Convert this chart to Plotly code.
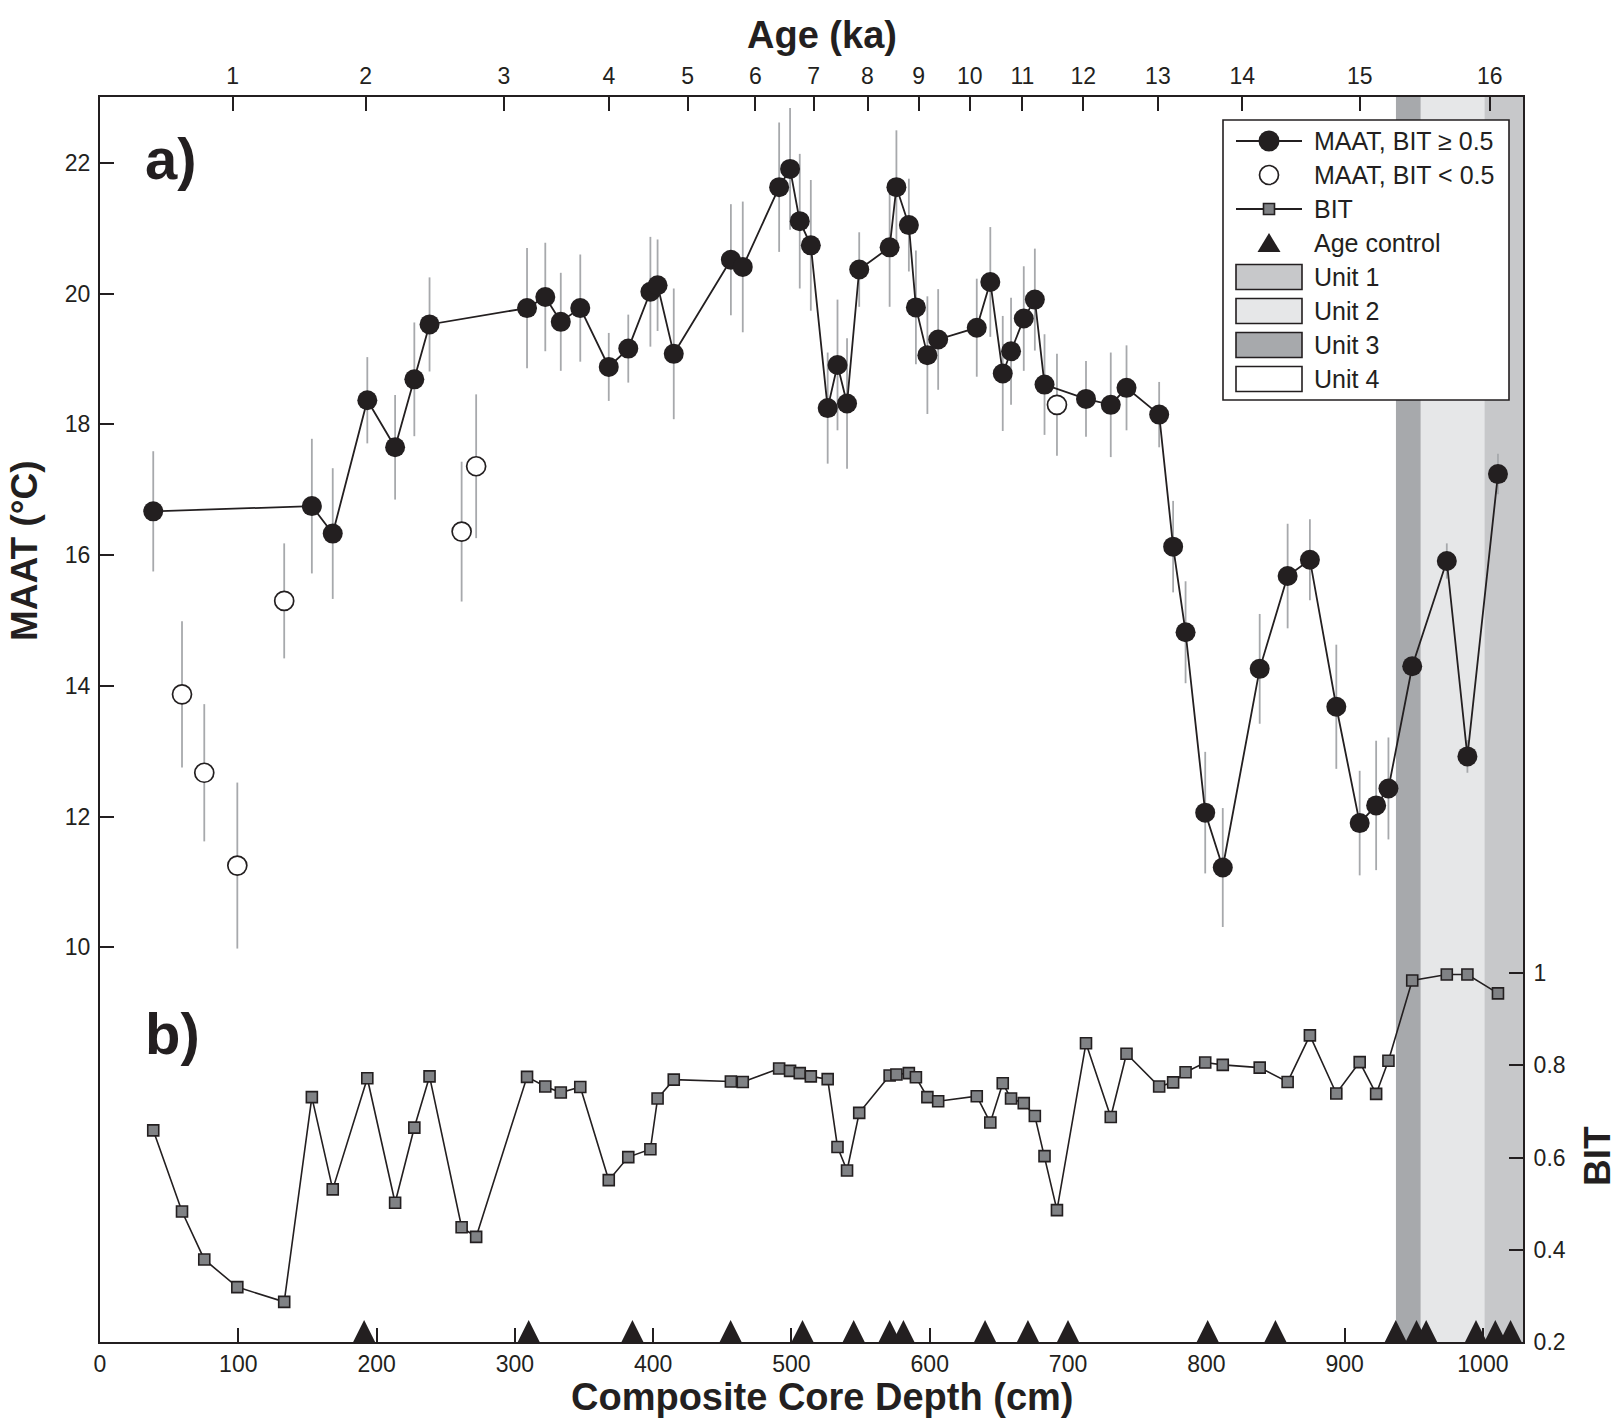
import plotly.graph_objects as go

# ---------------- data ----------------
DEPTH_CM = [38.5, 59.3, 75.4, 99.3, 133.2, 153.2, 168.3, 193.3, 213.4, 227.3,
            238.3, 261.5, 272.0, 308.8, 322.0, 333.2, 347.3, 367.9, 382.0, 398.0,
            403.2, 414.9, 456.2, 464.8, 491.1, 499.0, 506.0, 514.0, 526.2, 533.3,
            540.2, 549.0, 571.0, 575.9, 584.9, 590.0, 598.3, 606.1, 634.0, 643.8,
            652.8, 658.8, 668.0, 676.0, 683.0, 692.0, 713.0, 730.9, 742.3, 765.9,
            776.0, 785.0, 799.2, 811.9, 838.6, 858.8, 874.9, 894.0, 910.9, 922.8,
            931.7, 948.9, 973.9, 988.8, 1010.9]

MAAT_C = [16.67, 13.87, 12.67, 11.25, 15.30, 16.75, 16.33, 18.37, 17.65, 18.69,
          19.53, 16.36, 17.36, 19.78, 19.95, 19.57, 19.78, 18.88, 19.16, 20.03,
          20.13, 19.08, 20.52, 20.41, 21.63, 21.91, 21.11, 20.74, 18.25, 18.91,
          18.32, 20.37, 20.71, 21.63, 21.05, 19.79, 19.06, 19.30, 19.48, 20.18,
          18.78, 19.12, 19.62, 19.91, 18.61, 18.30, 18.39, 18.30, 18.56, 18.15,
          16.13, 14.82, 12.06, 11.22, 14.26, 15.68, 15.93, 13.68, 11.90, 12.17,
          12.43, 14.30, 15.91, 12.92, 17.24]

MAAT_ERR_C = [0.92, 1.12, 1.05, 1.27, 0.88, 1.03, 1.00, 0.66, 0.80, 0.87,
              0.72, 1.07, 1.10, 0.92, 0.83, 0.75, 0.82, 0.52, 0.52, 0.84,
              0.70, 1.00, 0.85, 1.00, 0.99, 0.93, 1.03, 1.00, 0.85, 1.00,
              1.00, 0.57, 0.91, 0.87, 0.71, 0.87, 0.90, 0.77, 0.75, 0.84,
              0.88, 0.82, 0.80, 0.78, 0.77, 0.78, 0.58, 0.80, 0.65, 0.50,
              0.70, 0.78, 0.93, 0.91, 0.84, 0.80, 0.62, 0.95, 0.80, 0.99,
              0.78, 0.10, 0.27, 0.25, 0.31]

BIT_INDEX = [0.659, 0.483, 0.379, 0.319, 0.287, 0.731, 0.531, 0.772, 0.502, 0.665,
             0.776, 0.449, 0.428, 0.775, 0.754, 0.741, 0.753, 0.551, 0.601, 0.618,
             0.728, 0.769, 0.765, 0.764, 0.793, 0.788, 0.783, 0.776, 0.770, 0.623,
             0.572, 0.697, 0.778, 0.780, 0.783, 0.774, 0.731, 0.722, 0.733, 0.676,
             0.761, 0.728, 0.718, 0.690, 0.603, 0.486, 0.848, 0.688, 0.825, 0.754,
             0.763, 0.785, 0.806, 0.801, 0.795, 0.764, 0.865, 0.739, 0.807, 0.738,
             0.810, 0.984, 0.997, 0.997, 0.956]

# 1 = MAAT sample plotted as open circle (BIT < 0.5)
BIT_BELOW_HALF = [0, 1, 1, 1, 1, 0, 0, 0, 0, 0,
                  0, 1, 1, 0, 0, 0, 0, 0, 0, 0,
                  0, 0, 0, 0, 0, 0, 0, 0, 0, 0,
                  0, 0, 0, 0, 0, 0, 0, 0, 0, 0,
                  0, 0, 0, 0, 0, 1, 0, 0, 0, 0,
                  0, 0, 0, 0, 0, 0, 0, 0, 0, 0,
                  0, 0, 0, 0, 0]

AGE_CONTROL_CM = [191, 310, 385, 456, 508, 545, 571, 581, 640, 671, 700,
                  801, 850, 937, 952, 959, 995, 1009, 1020]

AGE_TICK_CM = [96, 192, 292, 368, 425, 474, 516, 555, 592, 629, 667, 711,
               765, 826, 911, 1005]
AGE_TICK_KA = ["1", "2", "3", "4", "5", "6", "7", "8", "9", "10", "11", "12",
               "13", "14", "15", "16"]

UNIT_LABELS = ["Unit 1", "Unit 2", "Unit 3", "Unit 4"]
UNIT_FROM_CM = [1001, 955, 937, 0]
UNIT_TO_CM = [1035, 1001, 955, 937]

# ---------------- styling ----------------
UNIT_COLORS = ["#c7c8ca", "#e6e7e8", "#a7a9ac", "#ffffff"]
INK = "#231f20"
ERR_GREY = "#a7a9ac"
BIT_FILL = "#808285"
FONT = "Liberation Sans"

W, H = 1620, 1420
M_L, M_R, M_T, M_B = 100, 97, 97, 78
PW = W - M_L - M_R
PH = H - M_T - M_B
X_RANGE = [0, 1029]
MAAT_RANGE = [3.96, 23.01]
BIT_RANGE = [0.2, 2.9]
TRI_SIZE = 22


def px_x(px):
    return (px - M_L) / PW


def px_y(py):
    return (H - M_B - py) / PH


filled = [i for i, f in enumerate(BIT_BELOW_HALF) if not f]
opened = [i for i, f in enumerate(BIT_BELOW_HALF) if f]

fig = go.Figure()

# error bars (behind everything)
fig.add_trace(go.Scatter(
    x=DEPTH_CM, y=MAAT_C, mode="markers",
    marker=dict(size=1, color="rgba(0,0,0,0)"),
    error_y=dict(type="data", array=MAAT_ERR_C, color=ERR_GREY,
                 thickness=1.8, width=0),
    hoverinfo="skip", showlegend=False))

# MAAT, BIT >= 0.5
fig.add_trace(go.Scatter(
    x=[DEPTH_CM[i] for i in filled], y=[MAAT_C[i] for i in filled],
    mode="lines+markers", name="MAAT, BIT \u2265 0.5",
    line=dict(color=INK, width=1.8),
    marker=dict(size=20, color=INK, line=dict(width=0)),
    showlegend=False))

# MAAT, BIT < 0.5
fig.add_trace(go.Scatter(
    x=[DEPTH_CM[i] for i in opened], y=[MAAT_C[i] for i in opened],
    mode="markers", name="MAAT, BIT < 0.5",
    marker=dict(size=19, color="white", line=dict(width=1.7, color=INK)),
    showlegend=False))

# BIT
fig.add_trace(go.Scatter(
    x=DEPTH_CM, y=BIT_INDEX, yaxis="y2", mode="lines+markers", name="BIT",
    line=dict(color=INK, width=1.6),
    marker=dict(symbol="square", size=11, color=BIT_FILL,
                line=dict(width=1.6, color=INK)),
    showlegend=False))

# Age control triangles (sit on the bottom axis)
tri_y = BIT_RANGE[0] + TRI_SIZE * (BIT_RANGE[1] - BIT_RANGE[0]) / PH
fig.add_trace(go.Scatter(
    x=AGE_CONTROL_CM, y=[tri_y] * len(AGE_CONTROL_CM),
    xaxis="x2", yaxis="y2", mode="markers", name="Age control",
    marker=dict(symbol="arrow-up", size=TRI_SIZE, color=INK,
                line=dict(width=0)),
    cliponaxis=False, showlegend=False))

shapes = []
# unit bands
for a, b, c in zip(UNIT_FROM_CM, UNIT_TO_CM, UNIT_COLORS):
    shapes.append(dict(type="rect", xref="x", yref="paper", x0=a, x1=b,
                       y0=0, y1=1, fillcolor=c, line=dict(width=0),
                       layer="below"))

# ---------------- custom legend ----------------
LG_X0, LG_X1, LG_Y0, LG_Y1 = 1223, 1509, 120, 400
ROW0, ROW_STEP = 141, 34
SYM_X0, SYM_X1 = 1236, 1302
SYM_CX = (SYM_X0 + SYM_X1) / 2
TXT_X = 1312

shapes.append(dict(type="rect", xref="paper", yref="paper",
                   x0=px_x(LG_X0), x1=px_x(LG_X1),
                   y0=px_y(LG_Y1), y1=px_y(LG_Y0),
                   fillcolor="white", line=dict(color=INK, width=1.6),
                   layer="above"))


def row_y(i):
    return ROW0 + ROW_STEP * i


def sym_line(i):
    return dict(type="line", xref="paper", yref="paper",
                x0=px_x(SYM_X0), x1=px_x(SYM_X1),
                y0=px_y(row_y(i)), y1=px_y(row_y(i)),
                line=dict(color=INK, width=1.8))


def pix_shape(kind, i, half_w, half_h, fill, lw, **kw):
    d = dict(type=kind, xref="paper", yref="paper",
             xsizemode="pixel", ysizemode="pixel",
             xanchor=px_x(SYM_CX), yanchor=px_y(row_y(i)),
             x0=-half_w, x1=half_w, y0=-half_h, y1=half_h,
             fillcolor=fill, line=dict(color=INK, width=lw))
    d.update(kw)
    return d


shapes.append(sym_line(0))
shapes.append(pix_shape("circle", 0, 10.5, 10.5, INK, 0))
shapes.append(pix_shape("circle", 1, 9.5, 9.5, "white", 1.7))
shapes.append(sym_line(2))
shapes.append(pix_shape("rect", 2, 5.5, 5.5, BIT_FILL, 1.6))
shapes.append(dict(type="path", xref="paper", yref="paper",
                   xsizemode="pixel", ysizemode="pixel",
                   xanchor=px_x(SYM_CX), yanchor=px_y(row_y(3)),
                   path="M-11.5,-9 L11.5,-9 L0,10 Z",
                   fillcolor=INK, line=dict(width=0)))
for k, c in enumerate(UNIT_COLORS):
    i = 4 + k
    shapes.append(dict(type="rect", xref="paper", yref="paper",
                       x0=px_x(SYM_X0), x1=px_x(SYM_X1),
                       y0=px_y(row_y(i) + 12.5), y1=px_y(row_y(i) - 12.5),
                       fillcolor=c, line=dict(color=INK, width=1.6)))

legend_texts = ["MAAT, BIT \u2265 0.5", "MAAT, BIT < 0.5", "BIT",
                "Age control"] + UNIT_LABELS

annotations = []
for i, t in enumerate(legend_texts):
    annotations.append(dict(text=t, xref="paper", yref="paper",
                            x=px_x(TXT_X), y=px_y(row_y(i)),
                            xanchor="left", yanchor="middle", showarrow=False,
                            font=dict(family=FONT, size=25, color=INK)))

title_font = dict(family=FONT, size=38, color=INK, weight="bold")
side_font = dict(family=FONT, size=37, color=INK, weight="bold")
panel_font = dict(family=FONT, size=58, color=INK, weight="bold")
annotations += [
    dict(text="Age (ka)", xref="paper", yref="paper", x=px_x(822), y=px_y(35),
         xanchor="center", yanchor="middle", showarrow=False, font=title_font),
    dict(text="Composite Core Depth (cm)", xref="paper", yref="paper",
         x=px_x(822), y=px_y(1397), xanchor="center", yanchor="middle",
         showarrow=False, font=title_font),
    dict(text="MAAT (\u00b0C)", xref="paper", yref="paper", x=px_x(24),
         y=px_y(551), xanchor="center", yanchor="middle", textangle=-90,
         showarrow=False, font=side_font),
    dict(text="BIT", xref="paper", yref="paper", x=px_x(1597), y=px_y(1156),
         xanchor="center", yanchor="middle", textangle=-90, showarrow=False,
         font=side_font),
    dict(text="a)", xref="paper", yref="paper", x=px_x(171), y=px_y(158),
         xanchor="center", yanchor="middle", showarrow=False, font=panel_font),
    dict(text="b)", xref="paper", yref="paper", x=px_x(172), y=px_y(1033),
         xanchor="center", yanchor="middle", showarrow=False, font=panel_font),
]

tick_font = dict(family=FONT, size=23, color=INK)
axis_common = dict(showgrid=False, zeroline=False, showline=True,
                   linecolor=INK, linewidth=2, ticks="inside", ticklen=14,
                   tickwidth=1.8, tickcolor=INK, tickfont=tick_font)

fig.update_layout(
    width=W, height=H, autosize=False,
    margin=dict(l=M_L, r=M_R, t=M_T, b=M_B),
    paper_bgcolor="white", plot_bgcolor="white",
    showlegend=False,
    font=dict(family=FONT, color=INK),
    xaxis=dict(range=X_RANGE, tick0=0, dtick=100, anchor="y",
               ticklabelstandoff=0, **axis_common),
    xaxis2=dict(range=X_RANGE, overlaying="x", side="top", anchor="y2",
                tickmode="array", tickvals=AGE_TICK_CM, ticktext=AGE_TICK_KA,
                ticklabelstandoff=2, **axis_common),
    yaxis=dict(range=MAAT_RANGE, tickmode="array",
               tickvals=[10, 12, 14, 16, 18, 20, 22], side="left",
               ticklabelstandoff=3, **axis_common),
    yaxis2=dict(range=BIT_RANGE, overlaying="y", side="right",
                tickmode="array", tickvals=[0.2, 0.4, 0.6, 0.8, 1.0],
                ticktext=["0.2", "0.4", "0.6", "0.8", "1"],
                ticklabelstandoff=4, **axis_common),
    shapes=shapes,
    annotations=annotations,
)

fig.write_html(
    "out.html",
    config={"displayModeBar": False},
    post_script="document.body.style.margin='0';document.body.style.padding='0';",
)
